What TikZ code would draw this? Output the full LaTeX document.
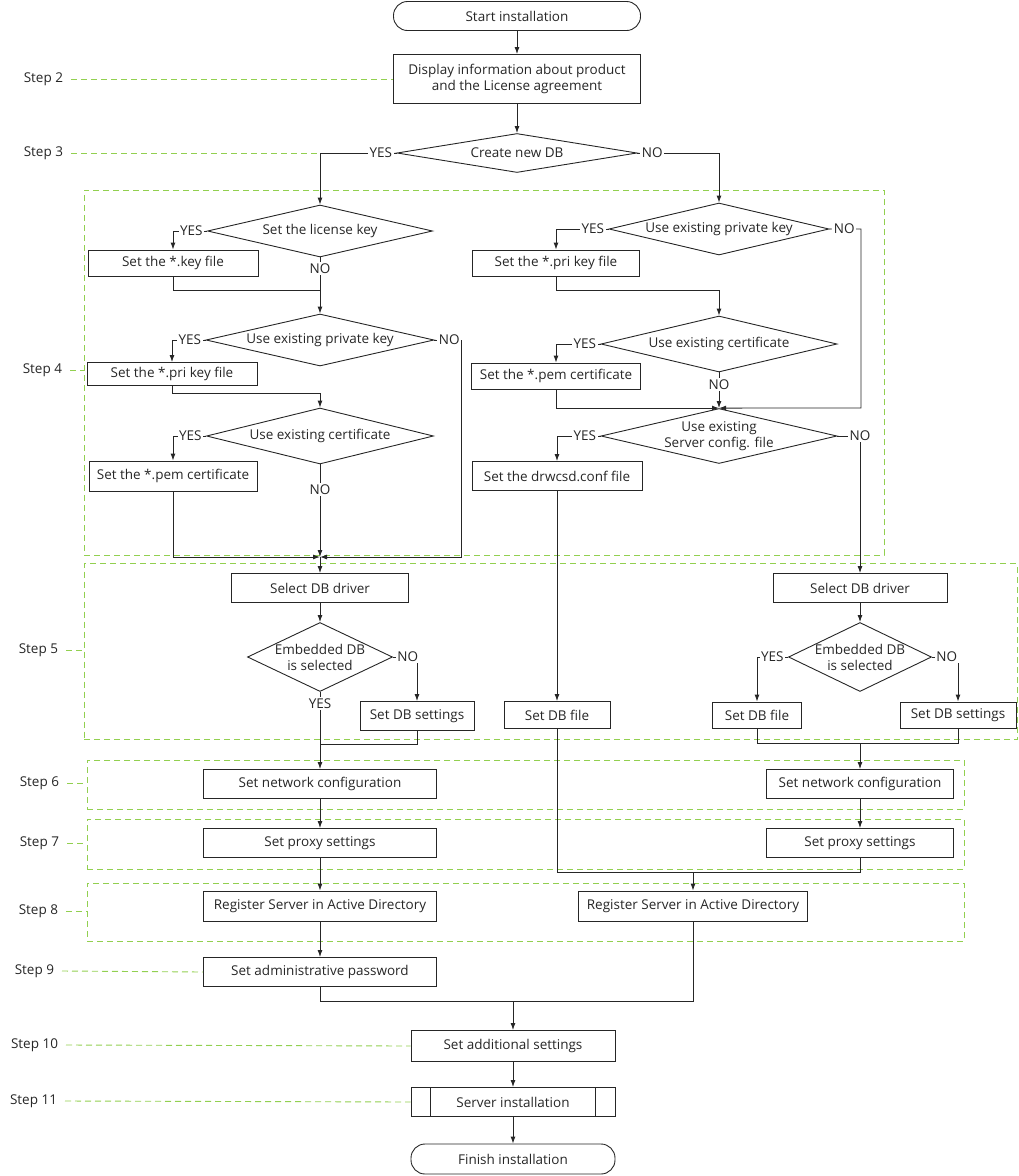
\documentclass[tikz,border=0pt]{standalone}
\usepackage{fontspec}
\setmainfont{Open Sans}
\usepackage{xcolor}
\usetikzlibrary{shapes.geometric,arrows.meta}
\definecolor{vert}{RGB}{146,208,80}
\definecolor{trait}{RGB}{38,38,38}

\begin{document}
\begin{tikzpicture}[x=1pt,y=-1pt,font=\fontsize{13.5}{16}\selectfont,text=trait,
    wh/.style 2 args={minimum width=#1pt,minimum height=#2pt}]
    % Styles
    \tikzstyle{ligne}=[draw=trait,line width=0.9pt]
    \tikzstyle{fleche}=[ligne,->,>={Latex[length=7pt,width=5pt]}]
    \tikzstyle{boite}=[draw=trait,line width=0.9pt,rectangle,inner sep=0pt,align=center]
    \tikzstyle{terminal}=[boite,rounded corners=14pt]
    \tikzstyle{losange}=[draw=trait,line width=0.9pt,diamond,inner sep=0pt]
    \tikzstyle{reponse}=[fill=white,inner sep=1.5pt,outer xsep=3pt]
    \tikzstyle{groupe}=[draw=vert,line width=0.9pt,dash pattern=on 6pt off 4pt,inner sep=0pt]
    \tikzstyle{pas}=[draw=vert,line width=0.9pt,dash pattern=on 6pt off 4pt]
    \tikzstyle{etape}=[inner sep=0pt,outer xsep=8pt,anchor=east]
    \useasboundingbox (0,0) rectangle (1019,1176);
    % Groupes
    \node[groupe,wh={800}{365}] (g4) at (484,372.5) {};
    \node[groupe,wh={933}{176}] (g5) at (550.5,651.5) {};
    \node[groupe,wh={877}{49}] (g6) at (525.5,784.5) {};
    \node[groupe,wh={877}{50}] (g7) at (525.5,844) {};
    \node[groupe,wh={877}{58}] (g8) at (525.5,912) {};
    % Noeuds
    \node[terminal,wh={247}{29}] (debut) at (517,16) {Start installation};
    \node[boite,wh={247}{49}] (info) at (517,79) {Display information about product\\and the License agreement};
    \node[losange,wh={240}{39},label=center:Create new DB] (nouvelle) at (517,153) {};
    % colonne gauche
    \node[losange,wh={225}{52},label=center:Set the license key] (licence) at (320,231) {};
    \node[boite,wh={170}{26}] (fichierKey) at (173,263) {Set the *.key file};
    \node[losange,wh={228}{52},label=center:Use existing private key] (priveG) at (320,340) {};
    \node[boite,wh={170}{23}] (priG) at (172,374) {Set the *.pri key file};
    \node[losange,wh={227}{56},label=center:Use existing certificate] (certG) at (320,436) {};
    \node[boite,wh={168}{30}] (pemG) at (173,476) {Set the *.pem certificate};
    % colonne droite
    \node[losange,wh={220}{52},label=center:Use existing private key] (priveD) at (719,229) {};
    \node[boite,wh={167}{26}] (priD) at (556,263) {Set the *.pri key file};
    \node[losange,wh={236}{56},label=center:Use existing certificate] (certD) at (719,344) {};
    \node[boite,wh={169}{26}] (pemD) at (556,376) {Set the *.pem certificate};
    \node[losange,wh={236}{55},label={[align=center]center:Use existing\\Server config. file}] (config) at (719,436) {};
    \node[boite,wh={170}{29}] (conf) at (557,476) {Set the drwcsd.conf file};
    % base de donnees
    \node[boite,wh={177}{29}] (piloteG) at (320,588) {Select DB driver};
    \node[losange,wh={145}{69},label={[align=center]center:Embedded DB\\is selected}] (integreG) at (320,657) {};
    \node[boite,wh={114}{29}] (reglagesG) at (417,716) {Set DB settings};
    \node[boite,wh={106}{27}] (fichierM) at (557,715) {Set DB file};
    \node[boite,wh={174}{29}] (piloteD) at (860,588) {Select DB driver};
    \node[losange,wh={143}{69},label={[align=center]center:Embedded DB\\is selected}] (integreD) at (860,657) {};
    \node[boite,wh={89}{26}] (fichierD) at (757,715) {Set DB file};
    \node[boite,wh={116}{26}] (reglagesD) at (958,715) {Set DB settings};
    % fin
    \node[boite,wh={233}{29}] (reseauG) at (320,784) {Set network configuration};
    \node[boite,wh={187}{29}] (reseauD) at (860,784) {Set network configuration};
    \node[boite,wh={233}{29}] (proxyG) at (320,843) {Set proxy settings};
    \node[boite,wh={187}{29}] (proxyD) at (860,843) {Set proxy settings};
    \node[boite,wh={233}{30}] (adG) at (320,906) {Register Server in Active Directory};
    \node[boite,wh={229}{30}] (adD) at (693,906) {Register Server in Active Directory};
    \node[boite,wh={233}{29}] (motdepasse) at (320,972) {Set administrative password};
    \node[boite,wh={204}{31}] (additionnel) at (513,1046) {Set additional settings};
    \node[boite,wh={204}{29}] (installation) at (513,1102) {Server installation};
    \node[terminal,wh={204}{30}] (fin) at (513,1159) {Finish installation};
    \draw[ligne] ([xshift=20pt]installation.north west) -- ([xshift=20pt]installation.south west);
    \draw[ligne] ([xshift=-20pt]installation.north east) -- ([xshift=-20pt]installation.south east);
    % Jonctions
    \coordinate (coinOui) at (licence.north |- nouvelle.west);
    \coordinate (jKey) at (320,290);
    \coordinate (jPriG) at (320,393);
    \coordinate (jG) at (320,557);
    \coordinate (nonG) at (461,557);
    \coordinate (jPriD) at (719,290);
    \coordinate (nonD) at (861,408);
    \coordinate (jDbG) at (320,744);
    \coordinate (jDbD) at (860,743);
    \coordinate (jAd) at (693,872);
    \coordinate (jFin) at (513,1001);
    % Etapes
    \node[etape] (s2) at (71,79) {Step 2};
    \node[etape] (s3) at (71,153) {Step 3};
    \node[etape] (s4) at (70,370) {Step 4};
    \node[etape] (s5) at (66,650) {Step 5};
    \node[etape] (s6) at (67,783) {Step 6};
    \node[etape] (s7) at (67,843) {Step 7};
    \node[etape] (s8) at (66,911) {Step 8};
    \node[etape] (s9) at (62,971) {Step 9};
    \node[etape] (s10) at (66,1045) {Step 10};
    \node[etape] (s11) at (65,1101) {Step 11};
    \draw[pas] (s2.east) -- (info.west);
    \draw[pas] (s3.east) -- (coinOui);
    \draw[pas] (s4.east) -- (s4.east -| g4.west);
    \draw[pas] (s5.east) -- (s5.east -| g5.west);
    \draw[pas] (s6.east) -- (s6.east -| g6.west);
    \draw[pas] (s7.east) -- (s7.east -| g7.west);
    \draw[pas] (s8.east) -- (s8.east -| g8.west);
    \draw[pas] (s9.east) -- (motdepasse.west);
    \draw[pas] (s10.east) -- (additionnel.west);
    \draw[pas] (s11.east) -- (installation.west);
    % Arcs
    \draw[fleche] (debut) -- (info);
    \draw[fleche] (info) -- (nouvelle);
    \draw[fleche] (nouvelle.west) node[reponse,anchor=east]{YES} -| (licence.north);
    \draw[fleche] (nouvelle.east) node[reponse,anchor=west]{NO} -| (priveD.north);
    \draw[fleche] (licence.west) node[reponse,anchor=east]{YES} -| (fichierKey.north);
    \draw[fleche] (licence.south) -- node[reponse,pos=.2]{NO} (priveG.north);
    \draw[ligne] (fichierKey.south) |- (jKey);
    \draw[fleche] (priveG.west) node[reponse,anchor=east]{YES} -| (priG.north);
    \draw[fleche] (priveG.east) node[reponse,anchor=west]{NO} -| (nonG) -- (jG);
    \draw[fleche] (priG.south) |- (jPriG) -- (certG.north);
    \draw[fleche] (certG.west) node[reponse,anchor=east]{YES} -| (pemG.north);
    \draw[fleche] (certG.south) -- node[reponse,pos=.27]{NO} (jG);
    \draw[fleche] (pemG.south) |- (jG);
    \draw[fleche] (jG) -- (piloteG);
    \draw[fleche] (priveD.west) node[reponse,anchor=east]{YES} -| (priD.north);
    \draw[fleche] (priveD.east) node[reponse,anchor=west]{NO} -| (nonD) -- (config.north);
    \draw[fleche] (priD.south) |- (jPriD) -- (certD.north);
    \draw[fleche] (certD.west) node[reponse,anchor=east]{YES} -| (pemD.north);
    \draw[fleche] (certD.south) -- node[reponse,pos=.34]{NO} (config.north);
    \draw[fleche] (pemD.south) |- (config.north);
    \draw[fleche] (config.west) node[reponse,anchor=east]{YES} -| (conf.north);
    \draw[fleche] (config.east) -| node[reponse,pos=.5]{NO} (piloteD.north);
    \draw[fleche] (conf) -- (fichierM);
    \draw[fleche] (piloteG) -- (integreG);
    \draw[fleche] (integreG.east) node[reponse,anchor=west]{NO} -| (reglagesG.north);
    \draw[fleche] (integreG.south) -- node[reponse,pos=.15]{YES} (reseauG.north);
    \draw[ligne] (reglagesG.south) |- (jDbG);
    \draw[fleche] (piloteD) -- (integreD);
    \draw[fleche] (integreD.west) node[reponse,anchor=east]{YES} -| (fichierD.north);
    \draw[fleche] (integreD.east) node[reponse,anchor=west]{NO} -| (reglagesD.north);
    \draw[ligne] (fichierD.south) |- (jDbD) -| (reglagesD.south);
    \draw[fleche] (jDbD) -- (reseauD);
    \draw[fleche] (reseauG) -- (proxyG);
    \draw[fleche] (proxyG) -- (adG);
    \draw[fleche] (adG) -- (motdepasse);
    \draw[fleche] (reseauD) -- (proxyD);
    \draw[ligne] (fichierM.south) |- (jAd);
    \draw[ligne] (proxyD.south) |- (jAd);
    \draw[fleche] (jAd) -- (adD);
    \draw[ligne] (motdepasse.south) |- (jFin);
    \draw[ligne] (adD.south) |- (jFin);
    \draw[fleche] (jFin) -- (additionnel);
    \draw[fleche] (additionnel) -- (installation);
    \draw[fleche] (installation) -- (fin);
\end{tikzpicture}
\end{document}
